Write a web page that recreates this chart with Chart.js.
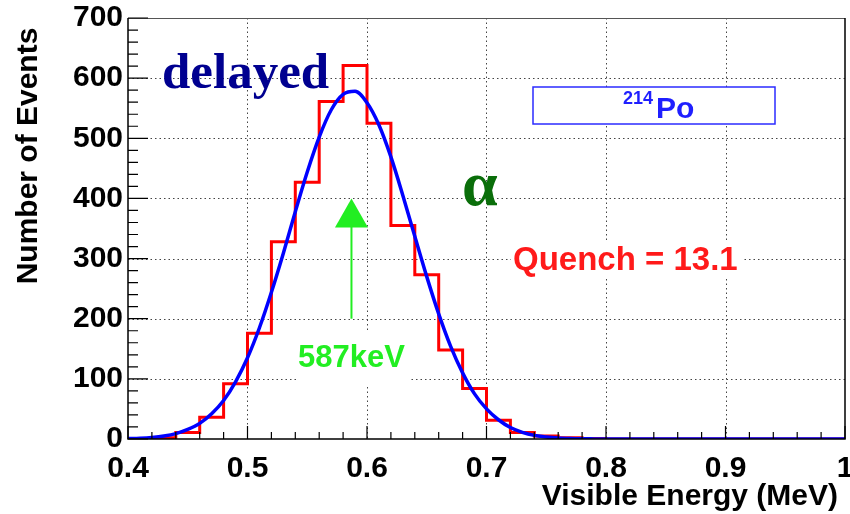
<!DOCTYPE html>
<html>
<head>
<meta charset="utf-8">
<script src="https://cdn.jsdelivr.net/npm/chart.js@4.4.1/dist/chart.umd.min.js"></script>
<style>
  html, body { margin: 0; padding: 0; background: #fff; }
  #chart { display: block; }
</style>
</head>
<body>
<canvas id="chart" width="850" height="514"></canvas>
<script>
// tick labels
const xTickLabels = ['0.4', '0.5', '0.6', '0.7', '0.8', '0.9', '1'];
const yTickLabels = ['0', '100', '200', '300', '400', '500', '600', '700'];

// histogram: bin edges (MeV) and counts per bin
const binEdges = [0.40, 0.42, 0.44, 0.46, 0.48, 0.50, 0.52, 0.54, 0.56, 0.58,
                  0.60, 0.62, 0.64, 0.66, 0.68, 0.70, 0.72, 0.74, 0.76, 0.78,
                  0.80, 0.82, 0.84, 0.86, 0.88, 0.90, 0.92, 0.94, 0.96, 0.98, 1.00];
const binCounts = [1, 2, 11, 36, 92, 176, 328, 427, 561, 621,
                   525, 355, 273, 148, 84, 31, 11, 5, 2, 1,
                   0, 0, 0, 0, 0, 0, 0, 0, 0, 0];

// fitted curve
const fitX = [0.40, 0.41, 0.42, 0.43, 0.44, 0.45, 0.46, 0.47, 0.48, 0.49,
              0.50, 0.51, 0.52, 0.53, 0.54, 0.55, 0.56, 0.57, 0.58, 0.59,
              0.60, 0.61, 0.62, 0.63, 0.64, 0.65, 0.66, 0.67, 0.68, 0.69,
              0.70, 0.71, 0.72, 0.73, 0.74, 0.75, 0.76, 0.77, 0.78, 0.79,
              0.80, 0.85, 0.90, 0.95, 1.00];
const fitY = [0.7, 1.4, 2.7, 5, 9, 16, 26, 42, 64, 95,
              135, 185, 244, 309, 378, 444, 502, 547, 573, 578,
              559, 522, 469, 405, 337, 270, 208, 154, 110, 75,
              50, 32, 19, 11, 6, 3.5, 1.8, 0.9, 0.4, 0.2,
              0, 0, 0, 0, 0];

// peak marker
const peakEnergy = 0.587;
const arrowFrom = 200;
const arrowTo = 400;

const histData = binCounts.map((c, i) => ({ x: binEdges[i], y: c }));
histData.push({ x: binEdges[binEdges.length - 1], y: binCounts[binCounts.length - 1] });
const fitData = fitX.map((x, i) => ({ x: x, y: fitY[i] }));

const FONT = '"Liberation Sans", Arial, sans-serif';

const rootAxes = {
    id: 'rootAxes',
    beforeDatasetsDraw(chart) {
        const { ctx, chartArea: a, scales: { x, y } } = chart;
        ctx.save();
        ctx.strokeStyle = '#444';
        ctx.lineWidth = 1;
        ctx.setLineDash([1.5, 3]);
        xTickLabels.slice(1, -1).forEach(t => {
            const px = Math.round(x.getPixelForValue(+t)) + 0.5;
            ctx.beginPath(); ctx.moveTo(px, a.top); ctx.lineTo(px, a.bottom); ctx.stroke();
        });
        yTickLabels.slice(1, -1).forEach(t => {
            const py = Math.round(y.getPixelForValue(+t)) + 0.5;
            ctx.beginPath(); ctx.moveTo(a.left, py); ctx.lineTo(a.right, py); ctx.stroke();
        });
        ctx.restore();
    },
    afterDatasetsDraw(chart) {
        const { ctx, chartArea: a, scales: { x, y } } = chart;
        ctx.save();

        // frame
        ctx.strokeStyle = '#555';
        ctx.lineWidth = 1;
        ctx.beginPath(); ctx.moveTo(a.left, a.top + 0.5); ctx.lineTo(a.right, a.top + 0.5); ctx.stroke();
        ctx.strokeStyle = '#000';
        ctx.lineWidth = 1.5;
        ctx.beginPath();
        ctx.moveTo(a.left, a.top); ctx.lineTo(a.left, a.bottom); ctx.lineTo(a.right, a.bottom); ctx.lineTo(a.right, a.top);
        ctx.stroke();

        // ticks
        ctx.lineWidth = 1.2;
        ctx.beginPath();
        for (let v = 0; v <= 700; v += 20) {
            const py = y.getPixelForValue(v);
            ctx.moveTo(a.left, py); ctx.lineTo(a.left + (v % 100 === 0 ? 20 : 10), py);
        }
        for (let k = 0; k <= 30; k++) {
            const px = x.getPixelForValue(0.4 + k * 0.02);
            ctx.moveTo(px, a.bottom); ctx.lineTo(px, a.bottom - (k % 5 === 0 ? 13 : 7));
        }
        ctx.stroke();

        // arrow at the peak
        const ax = x.getPixelForValue(peakEnergy);
        const ay0 = y.getPixelForValue(arrowFrom);
        const ay1 = y.getPixelForValue(arrowTo);
        ctx.strokeStyle = '#22ee22';
        ctx.fillStyle = '#22ee22';
        ctx.lineWidth = 2;
        ctx.beginPath(); ctx.moveTo(ax, ay0); ctx.lineTo(ax, ay1 + 28); ctx.stroke();
        ctx.beginPath();
        ctx.moveTo(ax, ay1); ctx.lineTo(ax - 16.5, ay1 + 29); ctx.lineTo(ax + 16.5, ay1 + 29);
        ctx.closePath(); ctx.fill();

        // labels
        ctx.fillStyle = '#fff';
        ctx.fillRect(296, 333, 114, 54);
        ctx.fillStyle = '#22ee22';
        ctx.font = 'bold 31px ' + FONT;
        ctx.textBaseline = 'alphabetic';
        ctx.fillText('587keV', 298, 367);

        ctx.fillStyle = '#fff';
        ctx.fillRect(511, 240, 231, 38);
        ctx.fillStyle = '#ff1a1a';
        ctx.font = 'bold 33px ' + FONT;
        ctx.fillText('Quench = 13.1', 513, 270);

        ctx.fillStyle = '#fff';
        ctx.fillRect(533, 87, 242, 37);
        ctx.strokeStyle = '#2b2bff';
        ctx.lineWidth = 1.5;
        ctx.strokeRect(533, 87, 242, 37);
        ctx.fillStyle = '#1f1fff';
        ctx.font = 'bold 18px ' + FONT;
        ctx.fillText('214', 623, 104);
        ctx.font = 'bold 30px ' + FONT;
        ctx.fillText('Po', 656, 118);

        ctx.fillStyle = '#000090';
        ctx.font = 'bold 51px "Liberation Serif", "Times New Roman", serif';
        ctx.fillText('delayed', 162, 88);

        ctx.fillStyle = '#0a6e0a';
        ctx.font = 'bold 64px "Liberation Serif", "Times New Roman", serif';
        ctx.fillText('\u03b1', 462, 205);

        // axis titles
        ctx.fillStyle = '#000';
        ctx.font = 'bold 30px ' + FONT;
        ctx.textAlign = 'right';
        ctx.fillText('Visible Energy (MeV)', 838, 505);
        ctx.translate(37, 156);
        ctx.rotate(-Math.PI / 2);
        ctx.textAlign = 'center';
        ctx.fillText('Number of Events', 0, 0);

        ctx.restore();
    }
};

new Chart(document.getElementById('chart').getContext('2d'), {
    type: 'line',
    data: {
        datasets: [{
            label: 'fit',
            data: fitData,
            borderColor: '#0000ff',
            borderWidth: 3.5,
            pointRadius: 0,
            cubicInterpolationMode: 'monotone',
            fill: false
        }, {
            label: 'histogram',
            data: histData,
            borderColor: '#ff0000',
            borderWidth: 3,
            pointRadius: 0,
            stepped: 'before',
            fill: false
        }]
    },
    options: {
        responsive: false,
        animation: false,
        events: [],
        layout: { padding: { top: 18, right: 5, left: 0, bottom: 0 } },
        plugins: {
            legend: { display: false },
            tooltip: { enabled: false }
        },
        scales: {
            x: {
                type: 'linear',
                min: 0.4,
                max: 1.0,
                grid: { display: false, drawTicks: false },
                border: { display: false },
                ticks: {
                    stepSize: 0.1,
                    autoSkip: false,
                    maxRotation: 0,
                    padding: 12,
                    color: '#000',
                    font: { family: FONT, weight: 'bold', size: 30 },
                    callback: (v) => xTickLabels.find(t => Math.abs(+t - v) < 1e-6) || ''
                },
                afterFit: (s) => { s.height = 75; s.paddingLeft = 0; s.paddingRight = 0; }
            },
            y: {
                min: 0,
                max: 700,
                grid: { display: false, drawTicks: false },
                border: { display: false },
                ticks: {
                    stepSize: 100,
                    padding: 5,
                    color: '#000',
                    font: { family: FONT, weight: 'bold', size: 30 },
                    callback: (v) => yTickLabels.find(t => +t === v) || ''
                },
                afterFit: (s) => { s.width = 128; s.paddingTop = 0; s.paddingBottom = 0; }
            }
        }
    },
    plugins: [rootAxes]
});
</script>
</body>
</html>
